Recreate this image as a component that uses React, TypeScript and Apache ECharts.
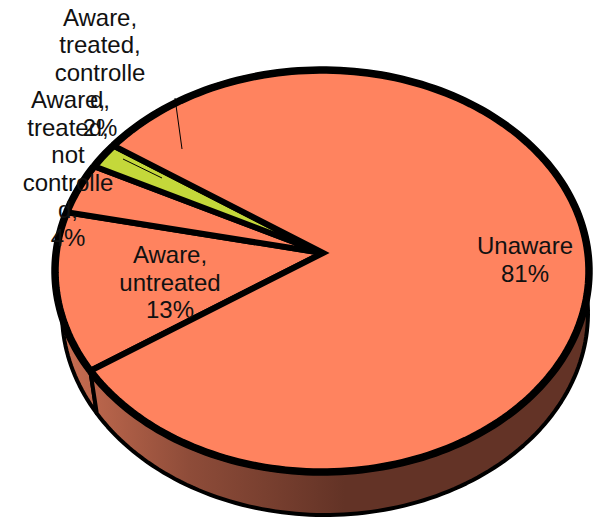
import React, { useEffect, useRef } from "react";
import * as echarts from "echarts";

// Slices in drawing order, running clockwise from the lower-left edge of the disc.
const sliceNames = ["Aware,\nuntreated", "Aware,\ntreated,\nnot\ncontrolle\nd,", "Aware,\ntreated,\ncontrolle\nd,", "Unaware"];
const sliceValues = [13, 4, 2, 81];
const sliceColors = ["#FF835F", "#FF835F", "#C4D83A", "#FF835F"];

// Ellipse geometry of the tilted disc.
const TOP = { cx: 322, cy: 271, rx: 267, ry: 201 };
const BOTTOM = { cx: 325, cy: 313, rx: 263, ry: 202 };
const APEX = { x: 323, y: 253 };
const START_DEG = 150.2;

const labelAnchors = [
  { x: 170, y: 282 },
  { x: 68, y: 168.5 },
  { x: 100, y: 72 },
  { x: 525, y: 259.5 },
];
const leaderLines = [
  null,
  null,
  { x1: 123, y1: 159, x2: 162, y2: 178 },
  { x1: 175, y1: 98, x2: 182, y2: 149 },
];

const total = sliceValues.reduce((a, b) => a + b, 0);
const sliceData = sliceValues.map((v, i) => [v, sliceValues.slice(0, i).reduce((a, b) => a + b, 0)]);

const arcPoints = (e: typeof TOP, from: number, to: number) => {
  const steps = Math.max(2, Math.ceil(Math.abs(to - from) / 1.5));
  const pts: number[][] = [];
  for (let i = 0; i <= steps; i++) {
    const t = ((from + ((to - from) * i) / steps) * Math.PI) / 180;
    pts.push([e.cx + e.rx * Math.cos(t), e.cy + e.ry * Math.sin(t)]);
  }
  return pts;
};

const sliceSpan = (api: any) => {
  const value = api.value(0) as number;
  const before = api.value(1) as number;
  const from = START_DEG + (before / total) * 360;
  return { from, to: from + (value / total) * 360 };
};

export default function App() {
  const ref = useRef<HTMLDivElement>(null);

  useEffect(() => {
    document.body.style.margin = "0";
    const chart = echarts.init(ref.current!, null, { renderer: "svg" });
    const wallFill = new echarts.graphic.LinearGradient(
      62, 0, 345, 0,
      [
        { offset: 0, color: "#C96E52" },
        { offset: 0.45, color: "#8E4C39" },
        { offset: 1, color: "#633326" },
      ],
      true
    );

    chart.setOption({
      animation: false,
      backgroundColor: "#ffffff",
      series: [
        {
          type: "custom",
          coordinateSystem: "none",
          silent: true,
          z: 1,
          data: sliceData,
          renderItem: (_p: any, api: any) => {
            const { from, to } = sliceSpan(api);
            return {
              type: "polygon",
              shape: { points: [...arcPoints(TOP, from, to), ...arcPoints(BOTTOM, to, from)] },
              style: { fill: wallFill, stroke: "#000", lineWidth: 4, lineJoin: "round" },
            };
          },
        },
        {
          type: "custom",
          coordinateSystem: "none",
          silent: true,
          z: 2,
          data: sliceData,
          renderItem: (p: any, api: any) => {
            const { from, to } = sliceSpan(api);
            return {
              type: "group",
              children: [
                {
                  type: "polygon",
                  shape: { points: [[APEX.x, APEX.y], ...arcPoints(TOP, from, to)] },
                  style: {
                    fill: sliceColors[p.dataIndex],
                    stroke: "#000",
                    lineWidth: 6,
                    lineJoin: "miter",
                    miterLimit: 4,
                  },
                },
                {
                  // The outer rim is drawn heavier than the spokes.
                  type: "polyline",
                  shape: { points: arcPoints(TOP, from, to) },
                  style: { fill: "none", stroke: "#000", lineWidth: 7.5 },
                },
              ],
            };
          },
        },
        {
          type: "custom",
          coordinateSystem: "none",
          silent: true,
          z: 3,
          data: sliceData,
          renderItem: (p: any, api: any) => {
            const i = p.dataIndex;
            const children: any[] = [];
            const leader = leaderLines[i];
            if (leader) {
              children.push({
                type: "line",
                shape: leader,
                style: { stroke: "#000", lineWidth: 1 },
              });
            }
            children.push({
              type: "text",
              x: labelAnchors[i].x,
              y: labelAnchors[i].y,
              style: {
                text: `${sliceNames[i]}\n${api.value(0)}%`,
                fill: "#111",
                font: '24px "Liberation Sans", Arial, sans-serif',
                lineHeight: 27.5,
                align: "center",
                verticalAlign: "middle",
              },
            });
            return { type: "group", children };
          },
        },
      ],
    });
    return () => chart.dispose();
  }, []);

  return <div ref={ref} style={{ position: "fixed", left: 0, top: 0, width: 602, height: 517 }} />;
}
